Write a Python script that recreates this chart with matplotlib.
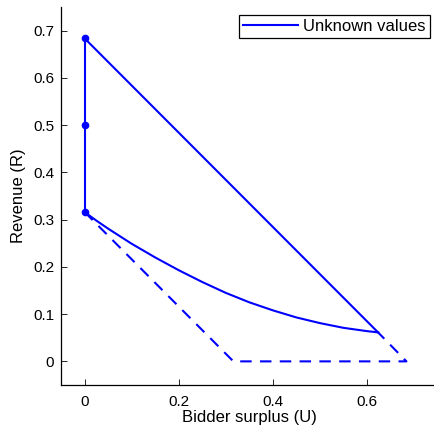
import matplotlib
matplotlib.use("Agg")
import matplotlib.pyplot as plt

plt.rcParams["font.family"] = ["Liberation Sans", "DejaVu Sans"]

# vertical segment at U = 0 with its three marked points
edge_u = [0, 0, 0]
edge_r = [0.3162, 0.5, 0.6838]

# upper straight boundary
upper_u = [0, 0.6235]
upper_r = [0.6838, 0.0614]

# lower curved boundary
curve_u = [0, 0.025, 0.05, 0.075, 0.1, 0.15, 0.2, 0.25, 0.3, 0.35,
           0.4, 0.45, 0.5, 0.55, 0.6, 0.6235]
curve_r = [0.3162, 0.298, 0.281, 0.265, 0.249, 0.220, 0.193, 0.168, 0.145,
           0.125, 0.108, 0.093, 0.081, 0.071, 0.064, 0.0614]

# dashed outer boundary
dash_u = [0, 0.3162, 0.6838, 0.6235]
dash_r = [0.3162, 0, 0, 0.0614]

blue = (0, 0, 1)

fig = plt.figure(figsize=(4.35, 4.28), dpi=100)
ax = fig.add_axes([61 / 435, 43 / 428, 376.6 / 435, 378 / 428])

ax.plot(curve_u, curve_r, color=blue, lw=1.5, label="Unknown values")
ax.plot(upper_u, upper_r, color=blue, lw=1.5)
ax.plot(edge_u, edge_r, color=blue, lw=1.5, marker="o", markersize=4.5)
ax.plot(dash_u, dash_r, color=blue, lw=1.5, dashes=(5.5, 4.0))

ax.set_xlim(-0.05, 0.75)
ax.set_ylim(-0.05, 0.75)
ax.set_xticks([0, 0.2, 0.4, 0.6])
ax.set_xticklabels(["0", "0.2", "0.4", "0.6"])
ax.set_yticks([0, 0.1, 0.2, 0.3, 0.4, 0.5, 0.6, 0.7])
ax.set_yticklabels(["0", "0.1", "0.2", "0.3", "0.4", "0.5", "0.6", "0.7"])
ax.tick_params(direction="in", length=4, width=0.6, labelsize=11)
ax.tick_params(axis="y", pad=5)
ax.tick_params(axis="x", pad=7)
ax.spines["top"].set_visible(False)
ax.spines["right"].set_visible(False)
ax.spines["left"].set_linewidth(0.9)
ax.spines["bottom"].set_linewidth(0.9)

ax.set_xlabel("Bidder surplus (U)", fontsize=12, labelpad=1)
ax.set_ylabel("Revenue (R)", fontsize=12, labelpad=5)

leg = ax.legend(loc="upper right", bbox_to_anchor=(430 / 435, 1 - 15 / 428),
                bbox_transform=fig.transFigure, fontsize=12, fancybox=False,
                framealpha=1, borderpad=0.25, handlelength=3.3, handletextpad=0.3,
                borderaxespad=0)
leg.get_frame().set_edgecolor("black")
leg.get_frame().set_linewidth(0.9)

fig.savefig("out.png", dpi=100)
